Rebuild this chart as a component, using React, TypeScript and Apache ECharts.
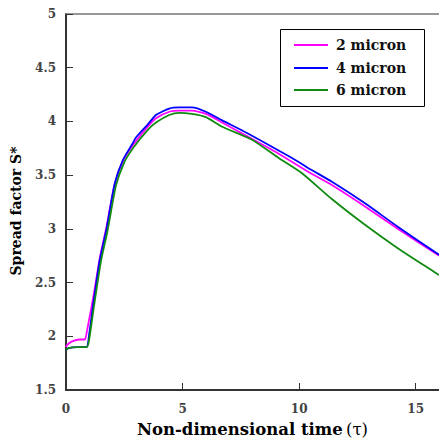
import React, { useEffect, useRef } from "react";
import * as echarts from "echarts";

const seriesNames = ["2 micron", "4 micron", "6 micron"];
const seriesColors = ["#ff00ff", "#0000ff", "#108a10"];

const t2 = [0, 0.05, 0.24, 0.59, 0.81, 0.9, 1.2, 1.45, 1.73, 2.09, 2.44, 2.87, 3.5, 3.86, 4.43, 4.86, 5.4, 6.0, 6.7, 7.7, 9.12, 10.4, 11.39, 12.81, 14.23, 15.86, 16];
const s2 = [1.9, 1.92, 1.95, 1.97, 1.97, 2.05, 2.4, 2.73, 3.01, 3.42, 3.63, 3.78, 3.95, 4.03, 4.09, 4.1, 4.1, 4.07, 3.99, 3.87, 3.7, 3.53, 3.41, 3.21, 3.0, 2.77, 2.75];

const t4 = [0, 0.1, 0.5, 0.88, 1.0, 1.2, 1.45, 1.73, 2.09, 2.44, 2.87, 3.0, 3.5, 3.86, 4.43, 4.86, 5.4, 6.0, 6.7, 7.7, 9.12, 10.0, 10.4, 11.39, 12.81, 14.23, 15.86, 16];
const s4 = [1.87, 1.89, 1.9, 1.9, 2.03, 2.35, 2.71, 2.99, 3.42, 3.64, 3.8, 3.85, 3.97, 4.06, 4.12, 4.13, 4.13, 4.09, 4.01, 3.9, 3.73, 3.62, 3.565, 3.44, 3.24, 3.02, 2.78, 2.76];

const t6 = [0, 0.1, 0.5, 0.9, 1.0, 1.2, 1.5, 1.78, 2.14, 2.5, 2.9, 3.5, 3.86, 4.43, 4.86, 5.4, 6.0, 6.7, 7.98, 9.12, 10.11, 11.39, 12.81, 14.23, 15.86, 16];
const s6 = [1.87, 1.89, 1.9, 1.9, 1.98, 2.28, 2.7, 2.98, 3.4, 3.62, 3.76, 3.92, 3.99, 4.06, 4.08, 4.07, 4.04, 3.95, 3.83, 3.66, 3.52, 3.28, 3.04, 2.82, 2.59, 2.57];

const xTicks = { min: 0, max: 16, interval: 5 };
const yTicks = { min: 1.5, max: 5, interval: 0.5 };

const FONT = "'DejaVu Serif', 'Liberation Serif', serif";

function zip(t: number[], s: number[]) {
  return t.map((v, i) => [v, s[i]]);
}

export default function App() {
  const ref = useRef<HTMLDivElement>(null);
  useEffect(() => {
    if (!ref.current) return;
    const chart = echarts.init(ref.current, undefined, { renderer: "svg" });
    const data = [zip(t2, s2), zip(t4, s4), zip(t6, s6)];
    const legendY = [45, 68, 90];
    const legendGraphics: any[] = [
      {
        type: "rect",
        shape: { x: 280.5, y: 29.5, width: 144, height: 77 },
        style: { fill: "#fff", stroke: "#000", lineWidth: 1 },
        z: 100,
      },
    ];
    seriesNames.forEach((name, i) => {
      legendGraphics.push({
        type: "line",
        shape: { x1: 294, y1: legendY[i], x2: 328, y2: legendY[i] },
        style: { stroke: seriesColors[i], lineWidth: 2 },
        z: 101,
      });
      legendGraphics.push({
        type: "text",
        x: 336,
        y: legendY[i],
        style: {
          text: name,
          font: `bold 14px ${FONT}`,
          fill: "#111",
          textVerticalAlign: "middle",
          verticalAlign: "middle",
        },
        z: 101,
      });
    });
    chart.setOption({
      animation: false,
      backgroundColor: "#fff",
      grid: { left: 66, top: 14, bottom: 56, width: 375.5, containLabel: false },
      graphic: legendGraphics,
      xAxis: [
        {
          type: "value",
          min: xTicks.min,
          max: xTicks.max,
          interval: xTicks.interval,
          name: "{b|Non-dimensional time} {n|(τ)}",
          nameLocation: "middle",
          nameGap: 31,
          nameTextStyle: {
            rich: {
              b: { fontFamily: FONT, fontWeight: "bold", fontSize: 16.5, color: "#000" },
              n: { fontFamily: FONT, fontWeight: "normal", fontSize: 16.5, color: "#000" },
            },
          },
          axisLine: { show: true, onZero: false, lineStyle: { color: "#333", width: 2 } },
          axisTick: { show: true, inside: true, length: 7, lineStyle: { color: "#333", width: 1 } },
          axisLabel: { fontFamily: FONT, fontWeight: "bold", fontSize: 12, color: "#444", margin: 13, showMaxLabel: false },
          splitLine: { show: false },
        },
        {
          type: "value",
          position: "top",
          min: xTicks.min,
          max: xTicks.max,
          interval: xTicks.interval,
          axisLine: { show: true, onZero: false, lineStyle: { color: "#777", width: 1.5 } },
          axisTick: { show: false },
          axisLabel: { show: false },
          splitLine: { show: false },
        },
      ],
      yAxis: {
        type: "value",
        min: yTicks.min,
        max: yTicks.max,
        interval: yTicks.interval,
        name: "Spread factor S*",
        nameLocation: "middle",
        nameGap: 43,
        nameTextStyle: { fontFamily: FONT, fontWeight: "bold", fontSize: 14, color: "#000", padding: [0, 18, 0, 0] },
        axisLine: { show: true, onZero: false, lineStyle: { color: "#333", width: 2 } },
        axisTick: { show: true, inside: true, length: 7, lineStyle: { color: "#333", width: 1 } },
        axisLabel: { fontFamily: FONT, fontWeight: "bold", fontSize: 12, color: "#444", margin: 10 },
        splitLine: { show: false },
      },
      series: seriesNames.map((name, i) => ({
        name,
        type: "line",
        data: data[i],
        symbol: "none",
        smooth: 0.2,
        color: seriesColors[i],
        lineStyle: { color: seriesColors[i], width: 1.8 },
      })),
    });
    return () => chart.dispose();
  }, []);
  return <div ref={ref} style={{ width: 439, height: 446, position: "absolute", left: 0, top: 0 }} />;
}
